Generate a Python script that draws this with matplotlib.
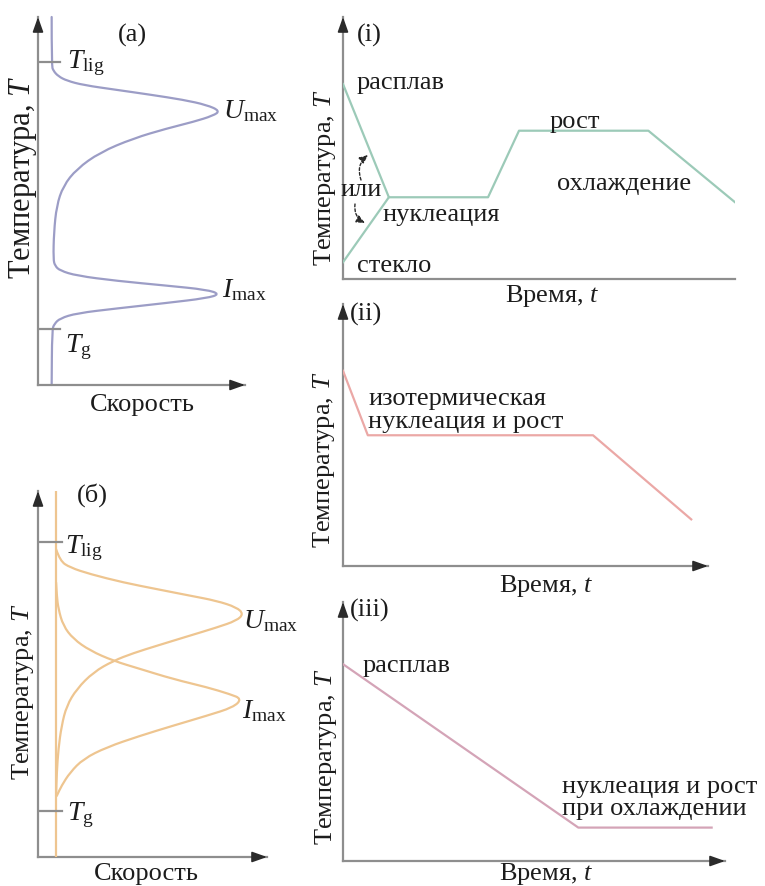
import matplotlib
matplotlib.use("Agg")
import matplotlib.pyplot as plt
from matplotlib.path import Path
from matplotlib.patches import PathPatch, FancyArrowPatch

# ---- data (arbitrary units, 0..100 on each axis) ----
# panel (a): one rate curve, speed vs temperature
a_speed = [6.6, 6.6, 7.4, 9.8, 13.9, 21.9, 38.0, 54.1, 70.2, 81.5, 87.9, 84.7, 75.0,
           62.2, 46.0, 29.9, 18.7, 12.2, 9.0, 7.7, 7.4, 8.2, 10.6, 18.7, 38.0, 62.2,
           81.5, 87.9, 81.5, 62.2, 38.0, 18.7, 10.6, 7.9, 6.8, 6.6]
a_temp = [100, 86.8, 85.4, 83.9, 82.7, 81.5, 80.2, 78.9, 77.5, 76.1, 74.5, 73.2, 71.5,
          69.7, 67.0, 63.2, 58.7, 54.1, 48.7, 41.5, 34.2, 32.4, 31.1, 29.7, 28.3, 27.0,
          25.9, 24.7, 23.6, 22.3, 20.8, 19.5, 18.1, 16.6, 15.0, 0]
a_tlig, a_tg = 87.8, 15.2

# panel (б): growth rate U and nucleation rate I
b_base = 7.9
b_u_speed = [7.9, 9.6, 14.0, 22.7, 37.3, 51.8, 66.4, 78.0, 86.8, 89.7, 86.8, 78.0, 66.4,
             51.8, 41.6, 32.9, 24.2, 16.9, 12.5, 10.3, 8.9, 8.2, 7.9]
b_u_temp = [84.1, 80.9, 79.1, 77.3, 75.0, 73.2, 71.4, 70.0, 68.2, 66.4, 64.6, 62.7, 60.5,
            57.7, 55.7, 53.6, 50.5, 45.9, 41.3, 35.9, 29.5, 23.1, 16.7]
b_i_speed = [7.9, 8.2, 8.9, 11.0, 15.4, 22.7, 32.9, 44.5, 59.1, 73.7, 83.8, 89.0, 85.3,
             73.7, 59.1, 44.5, 30.0, 19.8, 14.0, 10.3, 8.2]
b_i_temp = [75.0, 71.4, 67.8, 63.2, 59.6, 56.4, 53.6, 51.4, 48.6, 46.4, 44.5, 43.2, 40.9,
            38.6, 35.9, 33.1, 30.0, 26.8, 23.1, 19.5, 16.7]
b_tlig, b_tg = 86.1, 12.6

# heat-treatment schedules: time vs temperature
i_time = [0, 11.7, 37.0, 44.9, 77.9, 100]
i_temp = [74.4, 31.2, 31.2, 56.6, 56.6, 29.3]
i_glass_time = [0, 11.7]
i_glass_temp = [6.4, 31.2]
ii_time = [0, 6.8, 68.5, 95.4]
ii_temp = [74.5, 49.9, 49.9, 17.8]
iii_time = [0, 61.6, 96.5]
iii_temp = [76.0, 12.9, 12.9]

# ---- style ----
plt.rcParams['font.family'] = 'Liberation Serif'
plt.rcParams['mathtext.fontset'] = 'custom'
plt.rcParams['mathtext.rm'] = 'Liberation Serif'
plt.rcParams['mathtext.it'] = 'Liberation Serif:italic'

W, H = 765, 887
AX_C = '#8e8e8e'
HEAD_C = '#2b2b2b'
TXT = '#1c1c1c'
FS = 19

fig = plt.figure(figsize=(W / 100, H / 100), dpi=100)


def panel(x0, y0, x1, y1, arrow_x=True):
    # x0,y0 = axes origin (pixels), x1 = end of speed/time axis, y1 = top of T axis
    ax = fig.add_axes([x0 / W, 1 - y0 / H, (x1 - x0) / W, (y0 - y1) / H])
    ax.set_xlim(0, 100)
    ax.set_ylim(0, 100)
    ax.axis('off')
    ax.plot([0, 1], [0, 0], color=AX_C, lw=1.6, transform=ax.transAxes, clip_on=False)
    ax.plot([0, 0], [0, 1], color=AX_C, lw=1.6, transform=ax.transAxes, clip_on=False)
    head = dict(arrowstyle='-|>,head_length=0.9,head_width=0.32', color=HEAD_C,
                lw=1.2, shrinkA=0, shrinkB=0)
    ax.annotate('', xy=(0, 1), xytext=(0, 1 - 12 / (y0 - y1)),
                xycoords='axes fraction', arrowprops=head)
    if arrow_x:
        ax.annotate('', xy=(1, 0), xytext=(1 - 12 / (x1 - x0), 0),
                    xycoords='axes fraction', arrowprops=head)
    return ax


def smooth_line(ax, xs, ys, color):
    # draw the read points as a smooth quadratic-bezier path
    pts = list(zip(xs, ys))
    verts, codes = [pts[0]], [Path.MOVETO]
    for k in range(1, len(pts) - 1):
        mid = ((pts[k][0] + pts[k + 1][0]) / 2, (pts[k][1] + pts[k + 1][1]) / 2)
        verts += [pts[k], mid]
        codes += [Path.CURVE3, Path.CURVE3]
    verts.append(pts[-1])
    codes.append(Path.LINETO)
    ax.add_patch(PathPatch(Path(verts, codes), fill=False, edgecolor=color, lw=1.6,
                           clip_on=False, capstyle='round', joinstyle='round'))


def txt(x, y, s, size=FS, ha='left', va='baseline', **kw):
    fig.text(x / W, 1 - y / H, s, ha=ha, va=va, fontsize=size, color=TXT, **kw)


# (a)
ax = panel(38, 386, 245, 18)
smooth_line(ax, a_speed, a_temp, '#9c9dc6')
ax.plot([0, 10.6], [a_tlig, a_tlig], color=AX_C, lw=1.6)
ax.plot([0, 10.6], [a_tg, a_tg], color=AX_C, lw=1.6)
txt(118, 35, '(a)', va='center')
txt(67, 68, r'$T_{\mathrm{lig}}$', size=20)
txt(223, 118, r'$U_{\mathrm{max}}$', size=20)
txt(222, 297, r'$I_{\mathrm{max}}$', size=20)
txt(65, 352, r'$T_{\mathrm{g}}$', size=20)
txt(142, 411, 'Скорость', ha='center')
txt(23, 177, r'Температура, $T$', size=22, ha='center', va='center', rotation=90)

# (б)
ax = panel(38, 858, 267, 492)
ax.plot([b_base, b_base], [0, 100], color='#eec590', lw=1.6)
smooth_line(ax, b_u_speed, b_u_temp, '#eec590')
smooth_line(ax, b_i_speed, b_i_temp, '#eec590')
ax.plot([0, 10.5], [b_tlig, b_tlig], color=AX_C, lw=1.6)
ax.plot([0, 10.5], [b_tg, b_tg], color=AX_C, lw=1.6)
txt(92, 495, '(б)', ha='center', va='center')
txt(65, 553, r'$T_{\mathrm{lig}}$', size=20)
txt(243, 628, r'$U_{\mathrm{max}}$', size=20)
txt(242, 718, r'$I_{\mathrm{max}}$', size=20)
txt(67, 820, r'$T_{\mathrm{g}}$', size=20)
txt(146, 880, 'Скорость', ha='center')
txt(23, 692, r'Температура, $T$', size=FS, ha='center', va='center', rotation=90)

# (i)
ax = panel(343, 280, 735, 18, arrow_x=False)
ax.plot(i_time, i_temp, color='#9ccab8', lw=1.6)
ax.plot(i_glass_time, i_glass_temp, color='#9ccab8', lw=1.6)
txt(357, 35, '(i)', va='center')
txt(357, 89, 'расплав')
txt(550, 128, 'рост')
txt(557, 190, 'охлаждение')
txt(382, 221, 'нуклеация')
txt(357, 272, 'стекло')
txt(340, 196, 'или')
txt(552, 302, r'Время, $t$', ha='center')
txt(325, 178, r'Температура, $T$', ha='center', va='center', rotation=90)
dash = dict(arrowstyle='-|>,head_length=0.5,head_width=0.22', color=HEAD_C, lw=1.0,
            linestyle=(0, (2, 1.5)), shrinkA=0, shrinkB=0)
fig.add_artist(FancyArrowPatch(
    (361 / W, 1 - 181 / H), (368 / W, 1 - 156 / H), transform=fig.transFigure,
    connectionstyle='arc3,rad=-0.35', mutation_scale=10, **dash))
fig.add_artist(FancyArrowPatch(
    (355 / W, 1 - 205 / H), (365 / W, 1 - 224 / H), transform=fig.transFigure,
    connectionstyle='arc3,rad=0.35', mutation_scale=10, **dash))

# (ii)
ax = panel(343, 567, 708, 305)
ax.plot(ii_time, ii_temp, color='#eba8a6', lw=1.6)
txt(350, 314, '(ii)', va='center')
txt(368, 405, 'изотермическая')
txt(368, 428, 'нуклеация и рост')
txt(546, 592, r'Время, $t$', ha='center')
txt(324, 460, r'Температура, $T$', ha='center', va='center', rotation=90)

# (iii)
ax = panel(343, 862, 725, 603)
ax.plot(iii_time, iii_temp, color='#d4a4b7', lw=1.6)
txt(350, 610, '(iii)', va='center')
txt(363, 672, 'расплав')
txt(562, 793, 'нуклеация и рост')
txt(562, 815, 'при охлаждении')
txt(546, 880, r'Время, $t$', ha='center')
txt(326, 757, r'Температура, $T$', ha='center', va='center', rotation=90)

fig.savefig('out.png', dpi=100)
